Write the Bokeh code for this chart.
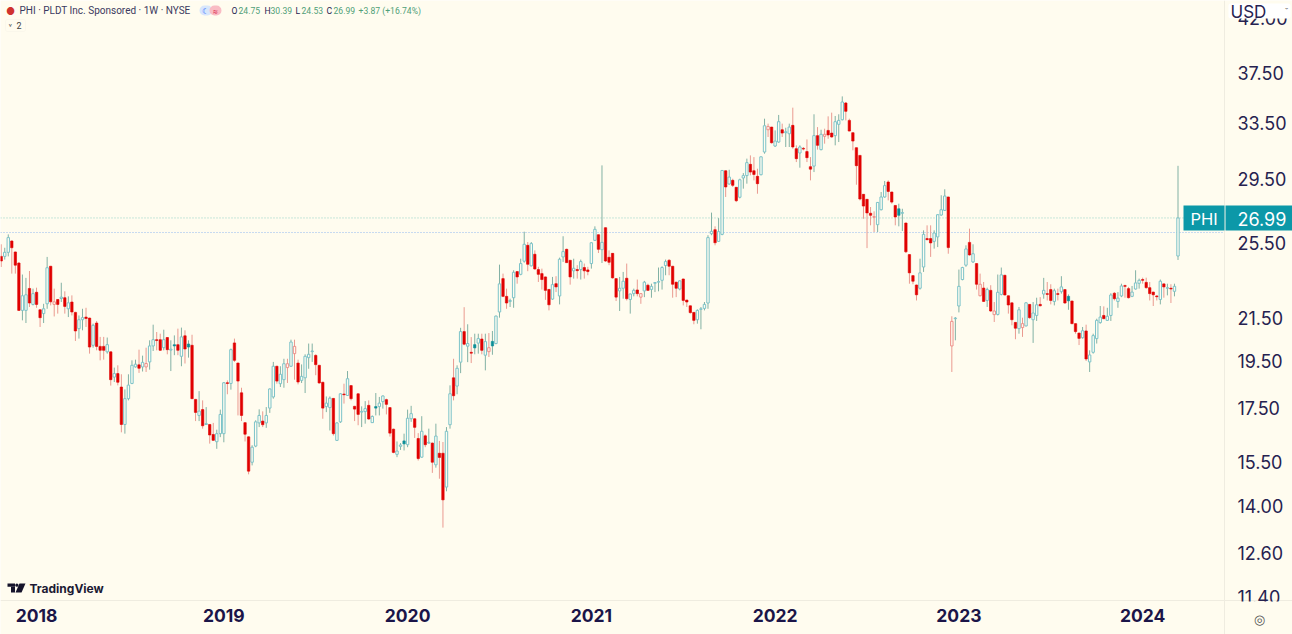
from bokeh.embed import file_html
from bokeh.resources import INLINE
from bokeh.plotting import figure
from bokeh.models import (ColumnDataSource, Range1d, FixedTicker, NumeralTickFormatter, LogAxis, LinearAxis,
                          Label, BoxAnnotation, PolyAnnotation)

opens = [
24.73,24.73,24.96,25.61,24.98,24.36,21.87,21.87,22.99,22.17,
22.79,21.90,21.71,22.20,24.18,22.17,22.42,22.47,22.51,21.95,
22.29,21.77,20.98,21.41,21.54,21.49,20.20,21.25,20.15,20.15,
19.90,19.90,18.79,18.94,18.37,16.87,17.89,18.52,19.23,19.32,
19.23,19.23,19.45,20.17,20.46,20.46,20.09,20.56,19.98,20.23,
20.23,19.70,20.64,20.26,20.20,17.86,17.22,17.45,16.87,16.87,
16.49,16.22,16.52,16.52,18.55,18.52,20.31,19.40,18.13,16.94,
16.40,15.48,16.06,16.93,17.00,16.93,17.51,17.96,19.26,18.51,
18.68,19.20,19.26,19.82,19.40,18.65,18.76,19.64,19.91,19.74,
19.30,18.57,17.57,17.53,17.90,16.27,16.97,18.08,18.02,18.43,
17.58,18.09,17.35,17.37,17.62,16.94,17.57,17.57,17.77,17.85,
17.53,16.69,15.76,16.05,16.25,16.11,17.09,17.09,16.34,15.66,
16.44,16.17,16.17,15.39,15.80,15.80,14.63,16.86,18.76,18.41,
19.44,20.84,20.16,19.88,20.23,20.30,20.49,19.75,19.91,20.38,
20.28,21.79,23.51,22.58,22.32,22.51,23.89,23.74,24.46,25.36,
24.20,24.85,24.00,23.78,23.60,22.94,22.44,23.24,22.60,24.70,
25.13,24.51,23.93,24.00,24.00,24.11,23.98,24.33,25.65,25.98,
25.11,26.40,24.68,24.90,23.51,22.86,23.00,23.53,22.42,22.72,
22.91,22.54,22.86,23.16,22.94,23.26,23.32,23.42,24.22,24.51,
24.18,23.32,22.96,23.49,22.39,22.10,21.77,21.41,21.92,21.97,
22.24,26.04,26.28,25.59,26.00,30.05,29.16,29.40,28.94,28.29,
29.56,29.72,30.49,30.05,29.67,29.78,31.36,32.99,33.19,31.79,
32.08,32.99,32.77,32.69,33.32,31.60,31.29,31.62,31.39,30.33,
30.37,32.55,31.53,32.50,32.94,32.74,32.55,33.40,33.75,35.06,
33.70,32.77,31.67,31.12,28.48,28.16,27.28,27.03,26.58,27.50,
28.31,29.29,28.63,27.77,27.56,27.28,26.68,24.83,23.67,23.17,
23.00,24.14,25.75,25.75,25.59,25.85,27.17,27.46,28.31,20.17,
21.46,22.09,23.46,24.24,25.53,24.42,24.33,22.61,23.01,22.37,
22.89,21.66,21.67,22.68,23.69,22.61,22.25,21.28,20.98,21.03,
21.11,22.17,21.41,21.62,22.17,22.70,22.72,22.93,22.32,22.72,
22.82,22.93,22.58,22.34,21.22,20.77,20.55,20.87,19.45,19.88,
20.51,21.27,21.62,21.38,21.62,22.74,22.32,22.60,23.14,22.98,
22.58,22.96,23.26,23.46,23.31,23.03,22.80,22.60,22.42,23.23,
23.00,23.00,22.84,24.75]

highs = [
25.42,25.22,26.00,25.65,25.00,24.40,23.73,23.55,23.92,22.98,
23.03,21.92,22.20,24.70,24.20,22.98,22.44,23.29,22.84,22.58,
22.63,21.80,21.62,21.95,22.00,21.51,21.22,21.35,20.59,20.59,
20.56,19.92,19.20,19.30,18.91,18.27,18.91,19.52,19.55,20.00,
19.73,20.09,20.43,21.17,20.82,20.74,20.93,20.58,20.43,20.66,
20.98,21.03,20.90,20.43,20.69,17.88,18.20,17.82,17.55,16.88,
16.93,16.67,17.45,18.58,18.65,20.05,20.51,19.42,18.34,16.96,
16.42,16.09,17.03,17.46,17.38,17.55,18.31,19.45,19.28,19.26,
19.59,19.59,20.46,20.46,19.55,19.34,19.79,20.28,20.28,19.79,
19.32,18.59,17.98,17.98,17.92,16.95,18.11,18.51,19.05,18.45,
17.60,18.11,17.58,17.79,17.82,17.22,18.12,17.96,18.02,17.89,
17.55,16.71,16.23,16.17,16.52,17.45,17.60,17.11,16.54,17.19,
16.49,16.71,16.19,16.90,16.25,16.21,16.77,18.44,19.59,19.30,
21.02,22.03,21.19,20.58,20.74,20.74,20.74,20.74,20.77,20.87,
21.61,24.27,23.78,22.98,22.46,23.96,23.91,24.60,26.16,25.55,
25.55,25.07,24.15,24.05,23.62,22.96,23.60,23.64,24.66,25.89,
25.17,24.53,24.60,24.24,24.55,24.33,24.15,25.53,26.48,26.00,
30.42,26.42,25.07,24.92,23.53,23.60,23.87,24.33,22.72,22.98,
23.46,22.74,23.39,23.24,23.24,23.33,24.11,24.18,24.55,24.58,
24.20,23.34,23.42,23.51,22.40,22.12,21.79,21.92,22.04,22.29,
25.95,27.32,26.48,26.98,30.09,30.07,30.12,29.51,28.96,29.51,
29.89,30.89,31.12,31.00,30.19,31.04,33.83,33.45,33.21,32.94,
34.12,33.45,33.14,33.45,34.69,31.84,31.84,31.72,32.27,31.00,
34.17,33.19,32.99,33.07,34.01,34.30,34.04,34.17,35.59,35.14,
33.83,32.79,31.69,31.14,28.50,28.18,27.67,27.40,27.98,28.63,
29.36,29.40,28.65,27.79,27.88,27.56,26.70,24.85,23.69,23.19,
24.60,26.24,26.54,26.54,26.24,27.21,28.42,28.81,28.33,21.58,
21.54,24.00,24.15,25.36,26.34,25.42,24.35,23.78,23.33,23.03,
23.16,22.29,23.73,24.11,23.71,22.63,22.27,21.30,22.04,21.51,
22.29,22.19,22.29,22.51,22.54,23.55,23.33,23.21,22.98,22.98,
23.64,22.95,22.68,22.36,21.24,20.79,21.06,21.17,19.97,20.74,
21.46,22.09,22.07,22.00,22.74,22.80,22.80,23.24,23.19,23.07,
23.12,23.96,23.51,23.56,23.56,23.33,22.82,22.63,23.46,23.25,
23.24,23.21,23.24,30.39]

lows = [
24.14,24.55,24.73,23.78,23.78,21.85,21.38,21.25,22.04,22.12,
22.00,21.06,21.25,21.95,22.12,21.57,21.71,22.29,21.71,21.54,
21.62,20.40,20.51,20.90,21.06,19.82,20.09,19.97,19.52,19.55,
19.82,18.43,18.58,18.44,16.57,16.52,17.82,18.49,19.20,18.97,
19.03,19.01,19.11,19.94,19.97,19.94,19.97,19.79,19.05,19.75,
19.75,19.26,19.38,19.64,17.87,17.00,17.00,16.71,16.87,16.15,
16.25,15.96,16.39,16.20,18.07,18.26,19.45,17.22,17.00,16.23,
15.06,15.37,16.02,16.77,16.77,16.74,17.32,17.89,18.51,18.37,
18.34,18.54,19.23,18.68,18.48,18.54,18.12,19.15,19.45,18.87,
18.51,17.09,17.35,16.64,16.45,16.25,16.93,17.69,18.00,17.82,
17.00,16.84,16.77,16.90,17.05,16.93,17.22,17.22,17.49,17.26,
16.41,15.80,15.66,15.92,15.90,16.02,16.97,16.36,15.54,15.64,
16.02,16.15,15.11,15.29,14.91,13.34,14.49,16.71,17.82,18.07,
18.96,20.20,19.44,19.40,19.79,19.82,19.79,19.08,19.67,19.77,
20.25,21.51,22.54,21.95,22.04,22.00,23.24,23.69,24.38,23.91,
24.18,24.00,23.33,22.93,22.40,21.87,22.40,22.80,22.17,24.42,
24.36,23.19,23.51,23.51,23.46,23.51,23.69,24.05,25.63,24.92,
24.36,24.42,24.24,23.51,22.34,21.84,22.46,22.37,21.71,22.58,
22.58,22.20,22.54,22.86,22.51,22.80,22.84,22.93,23.69,23.69,
22.51,22.54,22.89,22.12,22.04,21.71,21.19,21.22,20.95,21.87,
21.95,25.95,25.36,25.57,25.95,28.31,29.11,28.96,27.98,28.22,
28.85,29.18,29.74,29.40,28.52,29.74,31.24,32.45,31.96,31.72,
32.03,32.45,31.72,31.72,31.60,30.65,30.26,31.48,30.65,29.40,
29.96,31.53,31.48,31.96,32.32,32.40,31.84,32.08,33.70,33.70,
32.87,31.48,29.11,28.09,26.94,25.20,26.54,26.14,26.14,27.46,
28.26,28.09,27.88,26.54,26.48,26.20,24.92,23.24,23.21,22.37,
22.93,23.87,25.65,24.70,25.17,25.26,27.13,27.42,24.88,19.01,
20.43,21.77,23.42,24.15,24.77,24.36,22.93,22.58,22.29,22.04,
21.79,21.30,21.62,22.63,22.63,21.71,21.14,20.48,20.74,20.59,
21.09,21.46,20.31,21.35,22.07,22.46,22.37,22.17,22.12,22.37,
22.72,22.20,21.90,21.19,20.74,20.21,20.51,19.49,19.01,19.82,
20.28,21.22,21.44,21.35,21.35,22.37,22.00,22.54,22.51,22.47,
22.54,22.93,22.98,23.24,22.98,22.37,22.09,22.37,22.17,22.51,
22.63,22.24,22.58,24.53]

closes = [
24.47,24.96,25.81,25.22,24.24,21.87,22.61,22.66,22.24,22.72,
22.17,21.51,21.95,24.10,22.30,22.30,22.17,22.54,22.07,22.25,
21.79,20.87,21.41,21.51,21.47,20.12,21.14,20.15,19.97,19.97,
20.23,18.68,18.94,18.57,16.87,17.89,18.45,19.30,19.35,19.17,
19.43,19.38,20.17,20.46,20.42,19.97,20.46,20.00,20.02,20.17,
19.97,20.59,20.03,20.12,17.89,17.34,17.39,16.82,16.90,16.47,
16.27,16.52,17.26,18.55,18.52,20.00,19.52,18.62,17.22,16.50,
15.17,16.02,16.97,17.22,16.86,17.22,18.29,19.26,18.62,18.91,
19.37,19.37,20.35,20.15,18.58,18.82,19.70,19.79,19.94,19.33,
18.54,17.51,17.71,17.91,16.52,16.93,18.09,18.05,18.72,17.89,
17.47,17.26,17.38,17.49,17.08,17.18,17.51,17.71,18.00,17.66,
16.54,15.83,15.88,16.10,16.14,17.11,17.29,16.76,15.61,16.61,
16.11,16.20,15.48,16.43,15.65,14.21,16.61,18.09,18.01,19.17,
20.84,20.25,20.28,19.84,20.08,20.51,19.97,20.37,20.09,20.17,
21.59,23.23,22.58,22.24,22.37,23.85,23.60,24.33,25.42,24.29,
25.46,24.03,23.74,23.46,22.89,22.15,23.19,23.07,24.57,25.00,
24.38,23.60,24.07,23.94,24.44,23.93,23.89,25.51,26.30,25.13,
25.53,24.47,24.40,23.55,22.54,23.00,23.37,22.46,22.70,22.89,
22.72,22.72,23.32,22.89,23.10,23.30,23.35,24.11,24.44,24.18,
23.21,23.00,23.39,22.37,22.29,21.76,21.38,21.87,21.95,22.17,
25.81,26.18,25.51,26.16,30.07,28.96,29.62,29.07,28.07,29.44,
29.72,30.61,29.96,29.80,29.18,31.02,33.29,33.24,32.03,32.15,
33.60,32.74,32.84,33.19,31.72,30.89,31.72,31.57,30.96,30.16,
32.55,31.84,32.65,32.65,32.60,32.45,33.60,33.70,35.14,34.40,
32.89,32.15,30.40,28.18,27.73,27.30,27.15,27.07,27.96,28.31,
29.05,28.67,27.98,27.05,27.15,27.32,24.99,23.82,23.37,22.66,
23.82,26.00,25.69,25.50,26.08,27.19,27.50,28.37,25.23,21.33,
21.49,23.10,24.11,25.15,24.81,24.88,23.21,23.21,22.32,22.93,
21.84,21.84,22.79,23.71,22.65,22.14,21.41,21.00,21.90,21.22,
22.25,21.51,21.74,22.15,22.10,22.89,22.68,22.37,22.87,22.68,
23.07,22.24,22.35,21.22,20.84,20.52,20.88,19.58,19.76,20.65,
21.38,21.54,21.46,21.58,22.65,22.46,22.49,23.12,23.10,22.51,
22.80,23.28,23.42,23.42,23.03,22.72,22.66,22.56,23.37,23.07,
23.03,22.96,23.10,26.99]

# 1-based candle numbers whose colour differs from their body direction
up_closed_lower = [16,42,82,84,139,182,218,234,248,270,278,282,290]
down_closed_higher = [50,54,107,115,135,140,255,303]

year_labels = ["2018","2019","2020","2021","2022","2023","2024"]
year_weeks = [10,63,115,167,219,271,323]
price_ticks = [42.5,37.5,33.5,29.5,25.5,21.5,19.5,17.5,15.5,14.0,12.6,11.4]
last_price = 26.99
prev_line_price = 26.11

assert len(opens)==len(highs)==len(lows)==len(closes)==334

BG = "#fffcef"
INK = "#262250"
TEAL_LINE = "#7cc3c9"
TEAL_WICK = "#82b1a4"
TEAL_FILL = "#0b8f98"
RED = "#e00000"
RED_WICK = "#ea9a90"
TAG = "#0c98a8"
EDGE = "#efece0"
W, H = 1292, 634
# the frame fills the page; the scale edges are the axis positions inside it
X_LEFT, X_AXIS, X_RIGHT = -0.2, 346.15, 365.4
P_BOTTOM_AXIS, P_PAGE_BOTTOM, P_TOP = 11.30, 10.46, 44.27

p = figure(width=W, height=H, output_backend="svg", toolbar_location=None, y_axis_type="log",
           y_axis_location=None, x_axis_location=None,
           x_range=Range1d(X_LEFT, X_RIGHT), y_range=Range1d(P_PAGE_BOTTOM, P_TOP),
           min_border_left=0, min_border_right=0, min_border_top=0, min_border_bottom=0,
           background_fill_color=BG, border_fill_color=BG, outline_line_color=None)
p.grid.visible = False

idx = list(range(len(opens)))
def colour(i):
    n = i + 1
    if closes[i] >= opens[i]:
        return "r" if n in up_closed_lower else "u"
    return "t" if n in down_closed_higher else "d"
kinds = [colour(i) for i in idx]

def src(k):
    sel = [i for i in idx if kinds[i] in k]
    return ColumnDataSource(dict(x=sel, o=[opens[i] for i in sel], h=[highs[i] for i in sel],
                                 l=[lows[i] for i in sel], c=[closes[i] for i in sel]))

p.segment([X_LEFT],[last_price],[X_AXIS],[last_price], line_color="#8fcfc6", line_dash="1 2", line_width=1)
p.segment([X_LEFT],[prev_line_price],[X_AXIS],[prev_line_price], line_color="#8fb8f0", line_dash="1 2", line_width=1)

p.segment("x","h","x","l", source=src("ut"), line_color=TEAL_WICK, line_width=1)
p.segment("x","h","x","l", source=src("dr"), line_color=RED_WICK, line_width=1)
W_BODY = 0.68
p.vbar("x", W_BODY, "o", "c", source=src("u"), fill_color=BG, line_color=TEAL_LINE, line_width=1)
p.vbar("x", W_BODY, "o", "c", source=src("r"), fill_color=BG, line_color="#ee8f8a", line_width=1)
p.vbar("x", W_BODY, "o", "c", source=src("d"), fill_color=RED, line_color=RED, line_width=0.6)
p.vbar("x", W_BODY, "o", "c", source=src("t"), fill_color=TEAL_FILL, line_color=TEAL_FILL, line_width=0.6)

ya = LogAxis(fixed_location=X_AXIS, bounds=(P_PAGE_BOTTOM, P_TOP))
ya.ticker = FixedTicker(ticks=price_ticks, minor_ticks=[])
ya.formatter = NumeralTickFormatter(format="0.00")
ya.major_label_overrides = {42.5: "42.00"}
ya.major_label_text_font = "Inter"
ya.major_label_text_font_size = "18px"
ya.major_label_text_color = INK
ya.major_tick_line_color = None
ya.major_tick_out = 0
ya.major_tick_in = 0
ya.minor_tick_line_color = None
ya.axis_line_color = EDGE
ya.major_label_standoff = 13
p.add_layout(ya, "right")

xa = LinearAxis(fixed_location=P_BOTTOM_AXIS, bounds=(X_LEFT, X_RIGHT))
xa.ticker = FixedTicker(ticks=year_weeks, minor_ticks=[])
xa.major_label_overrides = dict(zip(year_weeks, year_labels))
xa.major_label_text_font = "Inter"
xa.major_label_text_font_style = "bold"
xa.major_label_text_font_size = "17.5px"
xa.major_label_text_color = "#1b1548"
xa.major_tick_line_color = None
xa.major_tick_out = 0
xa.major_tick_in = 0
xa.minor_tick_line_color = None
xa.axis_line_color = EDGE
xa.major_label_standoff = 8
p.add_layout(xa, "below")

def box(x0, x1, y0, y1, color, line=None, radius=0):
    p.add_layout(BoxAnnotation(left=x0, right=x1, top=H-y0, bottom=H-y1,
                               left_units="screen", right_units="screen", top_units="screen",
                               bottom_units="screen", fill_color=color, fill_alpha=1,
                               line_color=line, level="annotation", editable=False, border_radius=radius))

def text(x, y, s, size, color=INK, font="Inter", style="normal", align="left"):
    p.add_layout(Label(x=x, y=H-y, x_units="screen", y_units="screen", text=s,
                       text_font=font, text_font_size=f"{size}px", text_color=color,
                       text_font_style=style, text_align=align, text_baseline="middle", level="annotation"))

# price tag
box(1183, 1224, 205, 230, TAG)
box(1225, 1292, 205, 230, TAG)
text(1190, 218, "PHI", 16.5, "#ffffff")
text(1237, 218, "26.99", 18, "#ffffff")
# currency selector
box(1228, 1290, 3, 18, "#ffffff", radius=2)
text(1230, 11, "USD", 17)
text(1286, 11, "\u02c7", 9, "#555555", align="center")
# the corner below the price scale hides the lowest label's lower half
box(1225, 1292, 601, 634, BG)

# header
text(19, 10, "PHI \u00b7 PLDT Inc. Sponsored \u00b7 1W \u00b7 NYSE", 10, "#3b3960", font="Roboto")
text(10, 10, "\u25cf", 10, "#d0322e", align="center")
box(199, 212, 5, 15, "#d8e6fb", radius=5)
box(209, 221, 5, 15, "#f9bcc4", radius=5)
text(205, 10, "\u263e", 8, "#2962ff", align="center")
text(215, 10, "\u2248", 8, "#e0405e", align="center")
GREEN = "#4f9f78"
for x, s, c in [(231,"O",INK),(238,"24.75",GREEN),(264,"H",INK),(270,"30.39",GREEN),(295,"L",INK),
                (301,"24.53",GREEN),(326,"C",INK),(333,"26.99",GREEN),(358,"+3.87 (+16.74%)",GREEN)]:
    text(x, 10, s, 8.6, c, font="Roboto")
box(5, 25, 19, 31, BG, EDGE, radius=2)
text(8, 25, "\u02c5", 8, "#555555")
text(16, 25, "2", 9, "#444444", font="Roboto")

# logo
LOGO = "#15132b"
box(7, 14.5, 583, 586.3, LOGO)
box(10.5, 14.5, 586.3, 592, LOGO)
box(14.8, 18, 583, 586.3, LOGO, radius=2)
p.add_layout(PolyAnnotation(xs=[19, 25, 21, 15], ys=[H-583, H-583, H-592, H-592],
                            xs_units="screen", ys_units="screen", fill_color=LOGO, fill_alpha=1,
                            line_color=None, level="annotation", editable=False))
text(29, 587.5, "TradingView", 12, "#1c1a33", style="bold")
text(1259, 618, "\u25ce", 13, "#555555", align="center")

open("out.html", "w").write(file_html(p, INLINE))
